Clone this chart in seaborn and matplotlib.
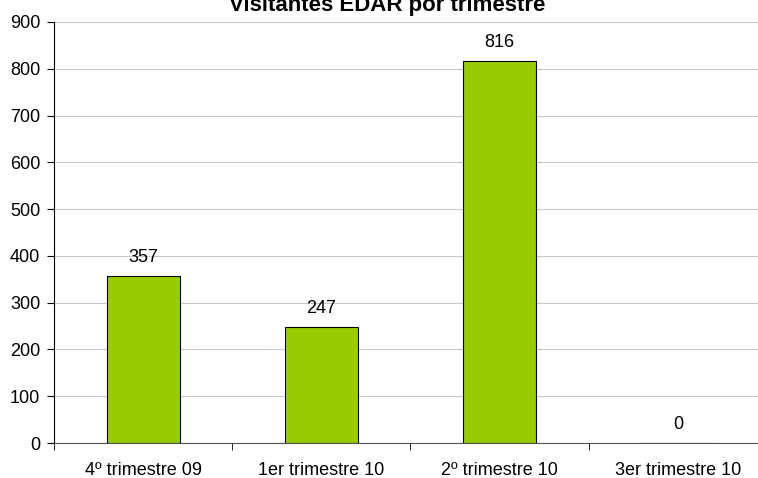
import numpy as np
import pandas as pd
import seaborn as sns
import matplotlib.pyplot as plt

quarters = ["4º trimestre 09", "1er trimestre 10", "2º trimestre 10", "3er trimestre 10"]
visitors = [357, 247, 816, 0]

df = pd.DataFrame({"trimestre": quarters, "visitantes": visitors})

sns.set_style("white")
plt.rcParams["font.family"] = ["Liberation Sans", "DejaVu Sans"]
plt.rcParams["text.color"] = "black"
plt.rcParams["xtick.color"] = "black"
plt.rcParams["ytick.color"] = "black"

fig = plt.figure(figsize=(7.58, 4.78), dpi=100)
ax = fig.add_axes([54 / 758, 1 - 443 / 478, 713 / 758, 421 / 478])

sns.barplot(data=df, x="trimestre", y="visitantes", color="#99CC00",
            edgecolor="black", linewidth=0.8, width=0.41, saturation=1, ax=ax)

ax.set_ylim(0, 900)
ax.set_xlim(-0.5, 3.5)
ax.set_yticks(np.arange(0, 901, 100))
ax.yaxis.grid(True, color="#c8c8c8", linewidth=0.8)
ax.set_axisbelow(True)
ax.set_xlabel("")
ax.set_ylabel("")

for s in ["top", "right"]:
    ax.spines[s].set_visible(False)
ax.spines["left"].set_color("black")
ax.spines["bottom"].set_color("#555555")
ax.spines["left"].set_linewidth(0.8)
ax.spines["bottom"].set_linewidth(0.8)

# category boundary ticks on x axis
ax.set_xticks(range(len(quarters)))
ax.set_xticklabels(quarters, fontsize=13)
ax.tick_params(axis="x", length=0, pad=14)
ax.set_xticks(np.arange(-0.5, 3.5, 1), minor=True)
ax.tick_params(axis="x", which="minor", length=5, color="black", direction="out", bottom=True)
ax.tick_params(axis="y", length=5, color="black", direction="out", left=True, labelsize=13, pad=5)

for i, v in enumerate(visitors):
    ax.text(i, v + 22, str(v), ha="center", va="bottom", fontsize=13)

# the title sits partly above the top edge, as in the original
fig.text(387 / 758, 1 - 11 / 478, "Visitantes EDAR por trimestre",
         ha="center", va="baseline", fontsize=16, fontweight="bold")

fig.savefig("out.png", dpi=100)
